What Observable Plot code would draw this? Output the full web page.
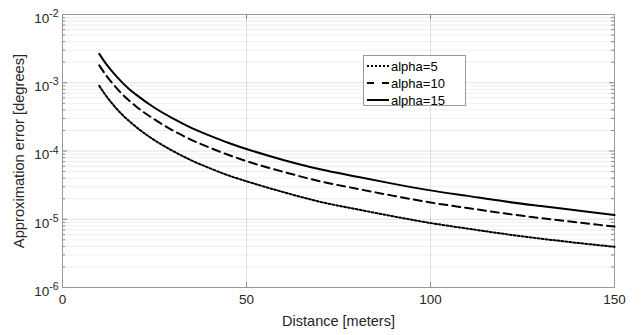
<!DOCTYPE html>
<html>
<head>
<meta charset="utf-8">
<script src="https://cdn.jsdelivr.net/npm/d3@7"></script>
<script src="https://cdn.jsdelivr.net/npm/@observablehq/plot@0.6"></script>
<style>
  html, body { margin: 0; padding: 0; background: #fff; }
  #chart svg { display: block; }
</style>
</head>
<body>
<div id="chart"></div>
<script>
const distances = [10, 12, 14, 16, 18, 20, 25, 30, 35, 40, 45, 50, 60, 70, 80, 90, 100, 110, 120, 130, 140, 150];
const err5  = [9.0e-4, 6.25e-4, 4.6e-4, 3.5e-4, 2.78e-4, 2.25e-4, 1.44e-4, 1.0e-4, 7.3e-5, 5.6e-5, 4.4e-5, 3.6e-5, 2.5e-5, 1.8e-5, 1.4e-5, 1.1e-5, 8.8e-6, 7.3e-6, 6.1e-6, 5.2e-6, 4.5e-6, 3.95e-6];
const err10 = [1.8e-3, 1.25e-3, 9.2e-4, 7.0e-4, 5.55e-4, 4.5e-4, 2.9e-4, 2.0e-4, 1.46e-4, 1.12e-4, 8.8e-5, 7.1e-5, 4.95e-5, 3.6e-5, 2.8e-5, 2.2e-5, 1.76e-5, 1.46e-5, 1.22e-5, 1.04e-5, 9.0e-6, 7.8e-6];
const err15 = [2.65e-3, 1.84e-3, 1.36e-3, 1.04e-3, 8.2e-4, 6.7e-4, 4.3e-4, 3.0e-4, 2.18e-4, 1.68e-4, 1.32e-4, 1.07e-4, 7.4e-5, 5.4e-5, 4.2e-5, 3.3e-5, 2.65e-5, 2.2e-5, 1.83e-5, 1.56e-5, 1.34e-5, 1.15e-5];
const seriesNames = ["alpha=5", "alpha=10", "alpha=15"];
const xTicks = [0, 50, 100, 150];
const yTicks = [1e-6, 1e-5, 1e-4, 1e-3, 1e-2];
const xLabel = "Distance [meters]";
const yLabel = "Approximation error [degrees]";

const dashes = {"alpha=5": "2,2", "alpha=10": "8,5", "alpha=15": null};

const rows = [];
[err5, err10, err15].forEach((arr, s) => {
  arr.forEach((v, i) => rows.push({series: seriesNames[s], d: distances[i], e: v}));
});

const minorTicks = [];
for (let p = -6; p < -2; p++) for (let k = 2; k <= 9; k++) minorTicks.push(k * Math.pow(10, p));

const W = 642, H = 335, mL = 62, mR = 28, mT = 14, mB = 48;
const fw = W - mL - mR, fh = H - mT - mB;
const font = "'Liberation Sans', Arial, Helvetica, sans-serif";
const txt = "#262626";

const lineMarks = seriesNames.map(name =>
  Plot.line(rows.filter(r => r.series === name), {
    x: "d", y: "e", stroke: "#000", strokeWidth: 2,
    strokeDasharray: dashes[name], curve: "monotone-x"
  })
);

const chart = Plot.plot({
  width: W, height: H,
  marginLeft: mL, marginRight: mR, marginTop: mT, marginBottom: mB,
  style: {fontFamily: font, background: "#fff"},
  x: {domain: [0, 150]},
  y: {type: "log", domain: [1e-6, 1e-2]},
  marks: [
    Plot.gridY(minorTicks, {stroke: "#000", strokeOpacity: 0.07}),
    Plot.gridY(yTicks, {stroke: "#000", strokeOpacity: 0.12}),
    Plot.gridX([50, 100], {stroke: "#000", strokeOpacity: 0.12}),
    // inward ticks
    Plot.tickY(minorTicks, {y: d => d, stroke: "#888", insetRight: fw - 3}),
    Plot.tickY(minorTicks, {y: d => d, stroke: "#888", insetLeft: fw - 3}),
    Plot.tickY(yTicks, {y: d => d, stroke: "#888", insetRight: fw - 5}),
    Plot.tickY(yTicks, {y: d => d, stroke: "#888", insetLeft: fw - 5}),
    Plot.tickX(xTicks, {x: d => d, stroke: "#888", insetTop: fh - 5}),
    Plot.tickX(xTicks, {x: d => d, stroke: "#888", insetBottom: fh - 5}),
    Plot.frame({stroke: "#999", strokeWidth: 1}),
    ...lineMarks,
    Plot.axisX(xTicks, {tickSize: 0, tickPadding: 7, fontSize: 13.5, fill: txt, label: null, tickFormat: d => String(d)}),
    Plot.axisY(yTicks, {tickSize: 0, tickPadding: 4, fontSize: 13.5, fill: txt, label: null, dy: 4,
      tickFormat: d => "10^" + Math.round(Math.log10(d))}),
    Plot.text([xLabel], {frameAnchor: "bottom", dy: 34, fontSize: 14.5, fill: txt, lineAnchor: "middle", textAnchor: "middle"}),
    Plot.text([yLabel], {frameAnchor: "left", dx: -43, rotate: -90, fontSize: 14.7, fill: txt, lineAnchor: "middle", textAnchor: "middle"})
  ]
});

// superscripts for log tick labels
d3.select(chart).selectAll('g[aria-label="y-axis tick label"] text').each(function() {
  const t = d3.select(this);
  const s = t.text();
  const m = s.match(/^10\^(-?\d+)$/);
  if (!m) return;
  t.text("10");
  t.append("tspan").attr("dy", "-0.55em").attr("font-size", "10.5px").text(m[1]);
});

// legend
const svg = d3.select(chart);
const lg = svg.append("g").attr("font-family", font).attr("font-size", 13).attr("text-anchor", "start");
lg.append("rect").attr("x", 363.5).attr("y", 55.5).attr("width", 102).attr("height", 50)
  .attr("fill", "#fff").attr("stroke", "#999");
seriesNames.forEach((name, i) => {
  const y = 66 + i * 17;
  lg.append("line").attr("x1", 367).attr("x2", 389).attr("y1", y).attr("y2", y)
    .attr("stroke", "#000").attr("stroke-width", 2)
    .attr("stroke-dasharray", name === "alpha=10" ? "7,8" : dashes[name]);
  lg.append("text").attr("x", 391).attr("y", y).attr("dy", "0.35em").attr("text-anchor", "start")
    .attr("fill", "#000").text(name);
});

document.getElementById("chart").appendChild(chart);
</script>
</body>
</html>
